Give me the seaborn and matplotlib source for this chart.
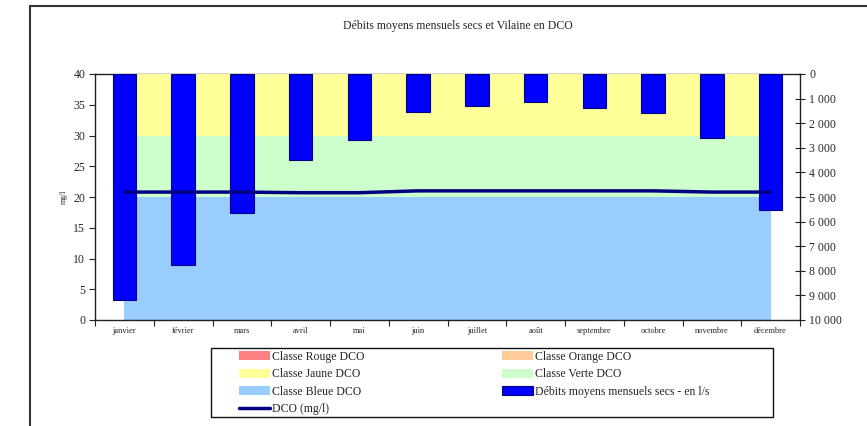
import numpy as np
import pandas as pd
import matplotlib
matplotlib.use("Agg")
import matplotlib.pyplot as plt
from matplotlib.patches import Patch, Rectangle
from matplotlib.lines import Line2D
from matplotlib.ticker import FuncFormatter, MultipleLocator, FixedLocator
import seaborn as sns

# Données
mois = ["janvier", "février", "mars", "avril", "mai", "juin", "juillet",
        "août", "septembre", "octobre", "novembre", "décembre"]
debits = [9200, 7750, 5660, 3500, 2680, 1530, 1290, 1130, 1370, 1570, 2590, 5530]
dco = [20.8, 20.8, 20.8, 20.7, 20.7, 21.0, 21.0, 21.0, 21.0, 21.0, 20.8, 20.8]

# Limites des classes de qualité DCO (épaisseur de chaque classe, en mg/l)
classe_bleue = [20] * 12
classe_verte = [10] * 12
classe_jaune = [10] * 12
classe_orange = [10] * 12
classe_rouge = [30] * 12

couleurs_classes = {
    "Classe Rouge DCO": "#ff8080",
    "Classe Orange DCO": "#ffcc99",
    "Classe Jaune DCO": "#ffff99",
    "Classe Verte DCO": "#ccffcc",
    "Classe Bleue DCO": "#99ccff",
}
bleu_barres = "#0000ff"
bord_barres = "#000080"
couleur_dco = "#000080"

sns.set_theme(style="white")
plt.rcParams["font.family"] = ["Liberation Serif", "DejaVu Serif"]

df = pd.DataFrame({"mois": mois, "debit": debits, "dco": dco})

fig = plt.figure(figsize=(8.67, 4.26), dpi=100)
ax = fig.add_axes([95 / 867, 1 - 320 / 426, 705 / 867, 246 / 426])

# Bandes des classes (axe mg/l)
pos = np.arange(len(mois))
ax.stackplot(pos, classe_bleue, classe_verte, classe_jaune, classe_orange, classe_rouge,
             colors=[couleurs_classes["Classe Bleue DCO"], couleurs_classes["Classe Verte DCO"],
                     couleurs_classes["Classe Jaune DCO"], couleurs_classes["Classe Orange DCO"],
                     couleurs_classes["Classe Rouge DCO"]],
             linewidth=0, zorder=1)
ax.set_ylim(0, 40)
ax.set_xlim(-0.5, len(mois) - 0.5)
ax.yaxis.set_major_locator(MultipleLocator(5))
ax.set_ylabel("mg/l", fontsize=5.5, labelpad=4)
ax.spines["right"].set_visible(False)
for s in ["left", "bottom", "top"]:
    ax.spines[s].set_color("#222222")
    ax.spines[s].set_linewidth(1.0)
# le bord supérieur reste sous les bandes colorées
ax.spines["top"].set_zorder(0.5)
ax.tick_params(axis="y", which="major", direction="out", length=4, width=0.8,
               labelsize=8.5, left=True, pad=3, color="#222222")

# Débits (axe secondaire inversé)
ax2 = ax.twinx()
sns.barplot(data=df, x="mois", y="debit", ax=ax2, color=bleu_barres, saturation=1,
            edgecolor=bord_barres, linewidth=0.8, width=0.4, order=mois)
ax2.set_ylim(10000, 0)
ax2.yaxis.set_major_locator(MultipleLocator(1000))
ax2.yaxis.set_major_formatter(FuncFormatter(lambda v, p: f"{int(v):,}".replace(",", " ")))
ax2.set_ylabel("")
ax2.set_xlabel("")
for s in ["top", "left", "bottom"]:
    ax2.spines[s].set_visible(False)
ax2.spines["right"].set_color("#222222")
ax2.spines["right"].set_linewidth(1.0)
ax2.tick_params(axis="y", which="major", direction="inout", length=7, width=0.8,
                labelsize=8.5, right=True, pad=3, color="#222222")

# Courbe DCO
ax3 = ax.twinx()
sns.lineplot(data=df, x="mois", y="dco", ax=ax3, color=couleur_dco, linewidth=2.5, sort=False)
ax3.set_ylim(0, 40)
ax3.set_xlim(-0.5, len(mois) - 0.5)
ax3.axis("off")

# Axe des mois
ax.set_xlim(-0.5, len(mois) - 0.5)
ax.xaxis.set_major_locator(FixedLocator(pos))
ax.set_xticklabels(mois, fontsize=6)
ax.xaxis.set_minor_locator(FixedLocator(np.arange(len(mois) + 1) - 0.5))
ax.tick_params(axis="x", which="major", length=0, pad=5)
ax.tick_params(axis="x", which="minor", direction="out", length=4, width=0.8,
               bottom=True, color="#222222")
ax.set_xlabel("")

fig.suptitle("Débits moyens mensuels secs et Vilaine en DCO", x=458 / 867, y=1 - 26 / 426,
             fontsize=8.5, va="center")

# Légende
handles = [
    Patch(facecolor=couleurs_classes["Classe Rouge DCO"], edgecolor="none", label="Classe Rouge DCO"),
    Patch(facecolor=couleurs_classes["Classe Jaune DCO"], edgecolor="none", label="Classe Jaune DCO"),
    Patch(facecolor=couleurs_classes["Classe Bleue DCO"], edgecolor="none", label="Classe Bleue DCO"),
    Line2D([0], [0], color=couleur_dco, linewidth=2.5, label="DCO (mg/l)"),
    Patch(facecolor=couleurs_classes["Classe Orange DCO"], edgecolor="none", label="Classe Orange DCO"),
    Patch(facecolor=couleurs_classes["Classe Verte DCO"], edgecolor="none", label="Classe Verte DCO"),
    Patch(facecolor=bleu_barres, edgecolor=bord_barres, linewidth=0.8,
          label="Débits moyens mensuels secs - en l/s"),
]
fig.legend(handles=handles, ncol=2, loc="upper left",
           bbox_to_anchor=(236 / 867, 1 - 348 / 426), frameon=False,
           fontsize=8.5, handlelength=2.6, handleheight=0.8, handletextpad=0.2,
           columnspacing=11.65, labelspacing=0.45, borderpad=0.25, borderaxespad=0)
fig.add_artist(Rectangle((211 / 867, 1 - 417 / 426), 562 / 867, 69 / 426,
                         transform=fig.transFigure, fill=False, edgecolor="#111111", linewidth=1.0))

# Cadre extérieur
fig.add_artist(Line2D([30 / 867, 30 / 867], [1 - 6 / 426, 0], transform=fig.transFigure,
                      color="#333333", linewidth=1.5))
fig.add_artist(Line2D([30 / 867, 1], [1 - 6 / 426, 1 - 6 / 426], transform=fig.transFigure,
                      color="#333333", linewidth=1.5))

fig.savefig("out.png", dpi=100, facecolor="white")
